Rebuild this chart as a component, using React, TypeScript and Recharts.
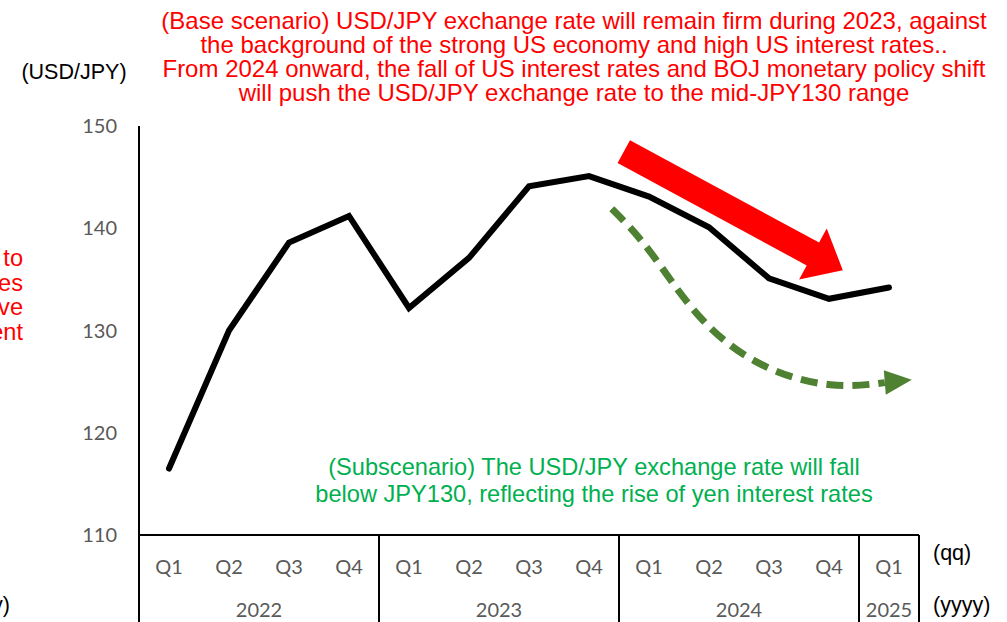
import { LineChart, Line, XAxis, YAxis, ReferenceLine } from "recharts";

const quarters = ["Q1", "Q2", "Q3", "Q4", "Q1", "Q2", "Q3", "Q4", "Q1", "Q2", "Q3", "Q4", "Q1"];
const years = ["2022", "2023", "2024", "2025"];
const yearCenters = [1.5, 5.5, 9.5, 12];
const yearBounds = [-0.5, 3.5, 7.5, 11.5, 12.5];
const usdJpy = [116.5, 130.0, 138.6, 141.2, 132.2, 137.1, 144.1, 145.1, 143.1, 140.1, 135.1, 133.1, 134.2];
const yTicks = [110, 120, 130, 140, 150];

// sub-scenario path (dashed green), x in quarter index units
const subX = [7.38, 8.02, 8.85, 9.9, 11.02, 11.93];
const subY = [141.9, 137.7, 131.3, 126.6, 124.7, 124.9];

// base-scenario arrow (red)
const baseArrow = [
  { x: 7.58, y: 147.5 },
  { x: 11.23, y: 135.9 },
];

const baseText = [
  "(Base scenario) USD/JPY exchange rate will remain firm during 2023, against",
  "the background of the strong US economy and high US interest rates..",
  "From 2024 onward, the fall of US interest rates and BOJ monetary policy shift",
  "will push the USD/JPY exchange rate to the mid-JPY130 range",
];
const subText = [
  "(Subscenario) The USD/JPY exchange rate will fall",
  "below JPY130, reflecting the rise of yen interest rates",
];
const leftText = [
  "(Upside risk) USD/JPY could rise to",
  "JPY150 if US interest rates",
  "stay high and the BOJ does not have",
  "a monetary policy movement",
];

const mainData = quarters.map((q, i) => ({ x: i, v: usdJpy[i] }));
const subData = subX.map((x, i) => ({ x, v: subY[i] }));
const allTicks = [...quarters.map((_, i) => i), ...yearBounds, ...yearCenters.filter((c) => c % 1 !== 0)].sort(
  (a, b) => a - b
);

const GRAY = "#595959";
const TICK_FONT = "Lato, 'Open Sans', sans-serif";
const TEXT_FONT = "'Liberation Sans', Arial, sans-serif";

function XTick(props: any) {
  const { x, y, payload } = props;
  const v = payload.value as number;
  const axisY = y - 8;
  const out: any[] = [];
  if (yearBounds.includes(v)) {
    out.push(<line key="b" x1={x} x2={x} y1={axisY} y2={axisY + 90} stroke="#000" strokeWidth={2} />);
  }
  if (Number.isInteger(v)) {
    out.push(
      <text key="q" x={x} y={axisY + 31} textAnchor="middle" dominantBaseline="central" fill={GRAY} fontSize={20} fontFamily={TICK_FONT}>
        {quarters[v]}
      </text>
    );
  }
  const yi = yearCenters.indexOf(v);
  if (yi >= 0) {
    out.push(
      <text key="y" x={x} y={axisY + 74} textAnchor="middle" dominantBaseline="central" fill={GRAY} fontSize={20} fontFamily={TICK_FONT}>
        {years[yi]}
      </text>
    );
  }
  return <g>{out}</g>;
}

function ArrowShape(props: any) {
  const { x1, y1, x2, y2 } = props;
  const dx = x2 - x1;
  const dy = y2 - y1;
  const len = Math.sqrt(dx * dx + dy * dy);
  const ux = dx / len;
  const uy = dy / len;
  const nx = -uy;
  const ny = ux;
  const shaft = 13;
  const head = 29;
  const headLen = 34;
  const bx = x2 - ux * headLen;
  const by = y2 - uy * headLen;
  const pts = [
    [x1 + nx * shaft, y1 + ny * shaft],
    [bx + nx * shaft, by + ny * shaft],
    [bx + nx * head, by + ny * head],
    [x2, y2],
    [bx - nx * head, by - ny * head],
    [bx - nx * shaft, by - ny * shaft],
    [x1 - nx * shaft, y1 - ny * shaft],
  ];
  return <polygon points={pts.map((p) => p.join(",")).join(" ")} fill="#FF0000" />;
}

function SubDot(props: any) {
  const { cx, cy, index } = props;
  if (index !== subData.length - 1) return <g key={`d${index}`} />;
  const pts = [
    [cx - 1, cy - 12.5],
    [cx + 27, cy - 3],
    [cx + 1, cy + 12],
  ];
  return <polygon key={`d${index}`} points={pts.map((p) => p.join(",")).join(" ")} fill="#4E8132" />;
}

export default function App() {
  return (
    <div style={{ position: "absolute", left: 0, top: 0, width: 1007, height: 622, background: "#fff", overflow: "hidden" }}>
      <LineChart width={1007} height={622} data={mainData} margin={{ top: 126, right: 88, bottom: 0, left: 79 }}>
        <XAxis
          dataKey="x"
          type="number"
          domain={[-0.5, 12.5]}
          ticks={allTicks}
          interval={0}
          height={87}
          tickLine={false}
          axisLine={{ stroke: "#000", strokeWidth: 2 }}
          tick={<XTick />}
          allowDataOverflow
        />
        <YAxis
          domain={[110, 150]}
          ticks={yTicks}
          width={60}
          tickLine={false}
          tickMargin={16}
          axisLine={{ stroke: "#000", strokeWidth: 2 }}
          tick={{ fill: GRAY, fontSize: 20, fontFamily: TICK_FONT }}
        />
        <ReferenceLine segment={baseArrow} shape={<ArrowShape />} ifOverflow="visible" />
        <Line
          data={subData}
          dataKey="v"
          type="natural"
          stroke="#4E8132"
          strokeWidth={7}
          strokeDasharray="17 9"
          dot={<SubDot />}
          activeDot={false}
          isAnimationActive={false}
        />
        <Line
          dataKey="v"
          type="linear"
          stroke="#000"
          strokeWidth={6}
          strokeLinecap="round"
          dot={false}
          activeDot={false}
          isAnimationActive={false}
        />
      </LineChart>
      <svg width={1007} height={622} style={{ position: "absolute", left: 0, top: 0, pointerEvents: "none" }}>
        <g fontFamily={TEXT_FONT}>
          {baseText.map((t, i) => (
            <text key={t} x={574} y={20 + i * 24.3} textAnchor="middle" dominantBaseline="central" fontSize={24} fill="#FF0000">
              {t}
            </text>
          ))}
          {subText.map((t, i) => (
            <text key={t} x={594} y={467 + i * 27} textAnchor="middle" dominantBaseline="central" fontSize={23.6} fill="#00B050">
              {t}
            </text>
          ))}
          {leftText.map((t, i) => (
            <text key={t} x={23} y={258 + i * 24.6} textAnchor="end" dominantBaseline="central" fontSize={23.6} fill="#FF0000">
              {t}
            </text>
          ))}
          <text x={74} y={72} textAnchor="middle" dominantBaseline="central" fontSize={21.5} fill="#000">
            (USD/JPY)
          </text>
          <text x={933} y={553} dominantBaseline="central" fontSize={21.5} fill="#000">
            (qq)
          </text>
          <text x={933} y={605} dominantBaseline="central" fontSize={21.5} fill="#000">
            (yyyy)
          </text>
          <text x={10} y={605} textAnchor="end" dominantBaseline="central" fontSize={21.5} fill="#000">
            (yyyy)
          </text>
        </g>
      </svg>
    </div>
  );
}
